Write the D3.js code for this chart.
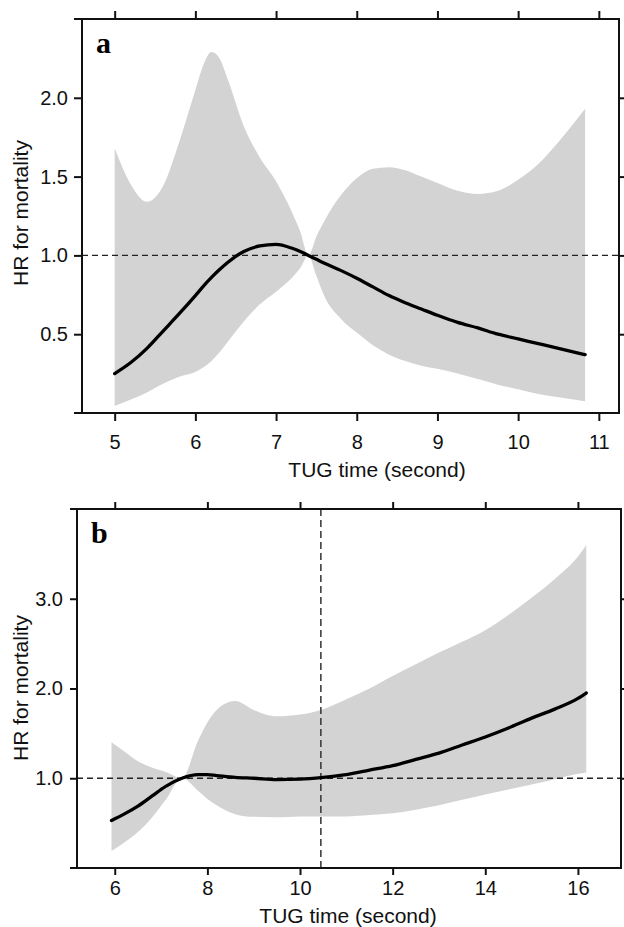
<!DOCTYPE html>
<html>
<head>
<meta charset="utf-8">
<script src="https://cdn.jsdelivr.net/npm/d3@7"></script>
<style>
	body { margin: 0; background: #fff; }
	svg { display: block; }
</style>
</head>
<body>
<svg id="chart" width="624" height="927"></svg>
<script>
// panel a: HR for mortality by TUG time, with confidence band
var tugA = [5.0, 5.2, 5.4, 5.6, 5.8, 6.0, 6.1, 6.2, 6.3, 6.4, 6.6, 6.8, 7.0, 7.2, 7.3, 7.4, 7.5, 7.6, 7.8, 8.0,
	8.2, 8.4, 8.6, 8.8, 9.0, 9.25, 9.5, 9.75, 10.0, 10.25, 10.5, 10.83];
var hrA = [0.25, 0.32, 0.41, 0.52, 0.63, 0.745, 0.805, 0.86, 0.91, 0.955, 1.025, 1.06, 1.07, 1.045, 1.025, 1.0, 0.975, 0.95, 0.905, 0.855,
	0.80, 0.745, 0.70, 0.66, 0.62, 0.575, 0.54, 0.50, 0.47, 0.44, 0.41, 0.37];
var lowerA = [0.045, 0.085, 0.13, 0.185, 0.23, 0.26, 0.29, 0.33, 0.385, 0.45, 0.58, 0.69, 0.77, 0.86, 0.92, 1.0, 0.87, 0.74, 0.60, 0.51,
	0.43, 0.37, 0.33, 0.30, 0.28, 0.25, 0.215, 0.18, 0.15, 0.12, 0.10, 0.075];
var upperA = [1.68, 1.45, 1.34, 1.44, 1.72, 2.05, 2.21, 2.29, 2.25, 2.12, 1.82, 1.62, 1.47, 1.27, 1.15, 1.0, 1.12, 1.22, 1.38, 1.49,
	1.55, 1.56, 1.54, 1.50, 1.46, 1.41, 1.39, 1.41, 1.48, 1.58, 1.72, 1.93];
var xTicksA = [5, 6, 7, 8, 9, 10, 11];
var yTicksA = [0.5, 1.0, 1.5, 2.0];

// panel b
var tugB = [5.93, 6.2, 6.5, 6.8, 7.1, 7.45, 7.8, 8.0, 8.2, 8.6, 9.0, 9.5, 10, 10.5, 11, 11.5, 12,
	12.5, 13, 13.5, 14, 14.5, 15, 15.5, 16, 16.18];
var hrB = [0.53, 0.60, 0.69, 0.80, 0.91, 1.0, 1.04, 1.04, 1.03, 1.01, 1.0, 0.985, 0.99, 1.01, 1.04, 1.09, 1.14,
	1.21, 1.28, 1.37, 1.46, 1.56, 1.67, 1.77, 1.89, 1.95];
var lowerB = [0.19, 0.28, 0.40, 0.56, 0.76, 1.0, 0.86, 0.77, 0.70, 0.60, 0.57, 0.565, 0.575, 0.575, 0.575, 0.59, 0.61,
	0.65, 0.70, 0.76, 0.82, 0.875, 0.93, 0.99, 1.05, 1.065];
var upperB = [1.40, 1.30, 1.19, 1.12, 1.07, 1.0, 1.42, 1.62, 1.76, 1.86, 1.76, 1.69, 1.71, 1.77, 1.88, 2.00, 2.14,
	2.27, 2.40, 2.52, 2.65, 2.82, 3.01, 3.22, 3.47, 3.60];
var xTicksB = [6, 8, 10, 12, 14, 16];
var yTicksB = [1.0, 2.0, 3.0];
var cutoffB = [10.45];

var refHR = 1;

var panels = [
	{
		letter: "a", tug: tugA, hr: hrA, lower: lowerA, upper: upperA,
		xTicks: xTicksA, yTicks: yTicksA, cutoff: [],
		xDomain: [4.595, 11.25], yDomain: [0, 2.5],
		left: 82, right: 619, top: 19, bottom: 413, tick: 8,
		xLabelPad: 14, xTitleX: 377, xTitleY: 477, yTitleY: 213
	},
	{
		letter: "b", tug: tugB, hr: hrB, lower: lowerB, upper: upperB,
		xTicks: xTicksB, yTicks: yTicksB, cutoff: cutoffB,
		xDomain: [5.185, 16.93], yDomain: [0, 4],
		left: 77, right: 621, top: 509, bottom: 868, tick: 7,
		xLabelPad: 6, xTitleX: 348, xTitleY: 923, yTitleY: 688
	}
];

var svg = d3.select("#chart");
var sans = "'Liberation Sans', Arial, Helvetica, sans-serif",
	ink = "#111";

function styleAxis(sel, withLabels) {
	sel.select(".domain").remove();
	sel.selectAll(".tick line").attr("stroke", ink).attr("stroke-width", 2);
	sel.attr("font-family", sans).attr("font-size", 20);
	if (withLabels) {
		sel.selectAll(".tick text").attr("fill", ink);
	} else {
		sel.selectAll(".tick text").remove();
	}
}

function drawPanel(cfg) {

	var x = d3.scaleLinear().domain(cfg.xDomain).range([cfg.left, cfg.right]),
		y = d3.scaleLinear().domain(cfg.yDomain).range([cfg.bottom, cfg.top]);

	var rows = cfg.tug.map(function(t, i) {
		return { t: t, hr: cfg.hr[i], lo: cfg.lower[i], hi: cfg.upper[i] };
	});

	var g = svg.append("g");

	g.append("path")
		.datum(rows)
		.attr("fill", "#d3d3d3")
		.attr("d", d3.area()
			.curve(d3.curveMonotoneX)
			.x(function(d) { return x(d.t); })
			.y0(function(d) { return y(d.lo); })
			.y1(function(d) { return y(d.hi); }));

	// reference lines
	g.append("line")
		.attr("x1", x.range()[0]).attr("x2", x.range()[1])
		.attr("y1", y(refHR)).attr("y2", y(refHR))
		.attr("stroke", "#222").attr("stroke-width", 1.3)
		.attr("stroke-dasharray", "6,4");

	g.selectAll(".cutoff")
		.data(cfg.cutoff)
		.enter().append("line")
		.attr("class", "cutoff")
		.attr("x1", function(d) { return x(d); }).attr("x2", function(d) { return x(d); })
		.attr("y1", y.range()[1]).attr("y2", y.range()[0])
		.attr("stroke", "#333").attr("stroke-width", 1.5)
		.attr("stroke-dasharray", "7,4");

	g.append("path")
		.datum(rows)
		.attr("fill", "none")
		.attr("stroke", "#000")
		.attr("stroke-width", 3.3)
		.attr("stroke-linejoin", "round")
		.attr("stroke-linecap", "round")
		.attr("d", d3.line()
			.curve(d3.curveMonotoneX)
			.x(function(d) { return x(d.t); })
			.y(function(d) { return y(d.hr); }));

	// axes on the four sides, labels only at bottom and left
	g.append("g")
		.attr("transform", "translate(0," + cfg.bottom + ")")
		.call(d3.axisBottom(x).tickValues(cfg.xTicks).tickSize(cfg.tick).tickPadding(cfg.xLabelPad)
			.tickFormat(d3.format("d")))
		.call(styleAxis, true);

	g.append("g")
		.attr("transform", "translate(0," + cfg.top + ")")
		.call(d3.axisTop(x).tickValues(cfg.xTicks).tickSize(cfg.tick))
		.call(styleAxis, false);

	g.append("g")
		.attr("transform", "translate(" + cfg.left + ",0)")
		.call(d3.axisLeft(y).tickValues(cfg.yTicks).tickSize(cfg.tick).tickPadding(14 - cfg.tick)
			.tickFormat(d3.format(".1f")))
		.call(styleAxis, true);

	g.append("g")
		.attr("transform", "translate(" + cfg.right + ",0)")
		.call(d3.axisRight(y).tickValues(cfg.yTicks).tickSize(cfg.tick))
		.call(styleAxis, false);

	// frame; the horizontal sides run out past the left side
	var frame = g.append("g").attr("stroke", ink).attr("stroke-width", 2);
	[cfg.top, cfg.bottom].forEach(function(yy) {
		frame.append("line")
			.attr("x1", cfg.left - cfg.tick).attr("x2", cfg.right + 1)
			.attr("y1", yy).attr("y2", yy);
	});
	[cfg.left, cfg.right].forEach(function(xx) {
		frame.append("line")
			.attr("x1", xx).attr("x2", xx)
			.attr("y1", cfg.top - 1).attr("y2", cfg.bottom + 1);
	});

	g.append("text")
		.attr("x", cfg.xTitleX).attr("y", cfg.xTitleY)
		.attr("text-anchor", "middle")
		.attr("font-family", sans).attr("font-size", 21).attr("fill", ink)
		.text("TUG time (second)");

	g.append("text")
		.attr("transform", "translate(28," + cfg.yTitleY + ") rotate(-90)")
		.attr("text-anchor", "middle")
		.attr("font-family", sans).attr("font-size", 21).attr("fill", ink)
		.text("HR for mortality");

	g.append("text")
		.attr("x", cfg.left + 14).attr("y", cfg.top + 34)
		.attr("font-family", "'Liberation Serif', 'Times New Roman', serif")
		.attr("font-weight", "bold").attr("font-size", 30).attr("fill", "#000")
		.text(cfg.letter);
}

panels.forEach(drawPanel);
</script>
</body>
</html>
